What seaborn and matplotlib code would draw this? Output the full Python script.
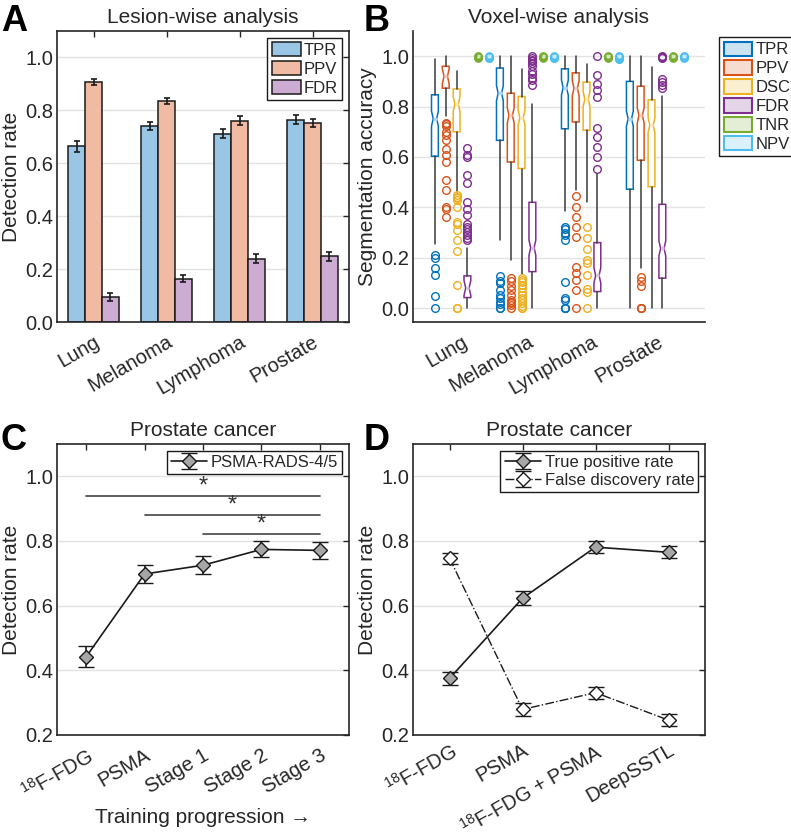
import numpy as np
import pandas as pd
import seaborn as sns
import matplotlib.pyplot as plt
from matplotlib.patches import Patch

sns.set_theme(style="white")
plt.rcParams['font.family'] = ['Liberation Sans', 'DejaVu Sans']
plt.rcParams['mathtext.fontset'] = 'custom'
plt.rcParams['mathtext.rm'] = 'Liberation Sans'
plt.rcParams['mathtext.default'] = 'regular'

# ---------------- data ----------------
cancers = ["Lung", "Melanoma", "Lymphoma", "Prostate"]

# A: lesion-wise
lesion_metrics = ["TPR", "PPV", "FDR"]
tpr_mean = [0.664, 0.742, 0.711, 0.765]
ppv_mean = [0.908, 0.836, 0.761, 0.752]
fdr_mean = [0.094, 0.164, 0.239, 0.248]
tpr_err = [0.020, 0.015, 0.017, 0.017]
ppv_err = [0.012, 0.012, 0.017, 0.015]
fdr_err = [0.015, 0.014, 0.017, 0.017]

# B: voxel-wise (rows: cancers, cols: TPR PPV DSC FDR TNR NPV)
vox_metrics = ["TPR", "PPV", "DSC", "FDR", "TNR", "NPV"]
box_q1 = [[0.603, 0.873, 0.700, 0.042, 1, 1],
          [0.666, 0.580, 0.554, 0.145, 1, 1],
          [0.712, 0.739, 0.706, 0.066, 1, 1],
          [0.472, 0.587, 0.482, 0.119, 1, 1]]
box_med = [[0.752, 0.920, 0.810, 0.080, 1, 1],
           [0.853, 0.765, 0.756, 0.240, 1, 1],
           [0.875, 0.873, 0.830, 0.130, 1, 1],
           [0.752, 0.765, 0.726, 0.237, 1, 1]]
box_q3 = [[0.847, 0.960, 0.870, 0.128, 1, 1],
          [0.953, 0.853, 0.840, 0.420, 1, 1],
          [0.950, 0.934, 0.897, 0.260, 1, 1],
          [0.900, 0.881, 0.827, 0.412, 1, 1]]
whis_lo = [[0.253, 0.761, 0.460, 0.000, 1, 1],
           [0.270, 0.190, 0.135, 0.000, 1, 1],
           [0.387, 0.468, 0.420, 0.000, 1, 1],
           [0.000, 0.158, 0.000, 0.000, 1, 1]]
whis_hi = [[0.990, 1.000, 0.940, 0.237, 1, 1],
           [1.000, 1.000, 0.950, 0.810, 1, 1],
           [1.000, 1.000, 0.970, 0.532, 1, 1],
           [1.000, 1.000, 0.957, 0.842, 1, 1]]
fliers_lung = [
    [0.209, 0.201, 0.158, 0.132, 0.049, 0.0],
    [0.735, 0.73, 0.722, 0.70, 0.686, 0.666, 0.633, 0.607, 0.58, 0.507, 0.47, 0.402, 0.392, 0.363],
    [0.448, 0.442, 0.436, 0.43, 0.40, 0.342, 0.333, 0.31, 0.27, 0.226, 0.091, 0.0, 0.0],
    [0.637, 0.607, 0.60, 0.53, 0.495, 0.42, 0.392, 0.369, 0.334, 0.323, 0.313, 0.303, 0.29, 0.277, 0.27],
    [1.0, 0.998, 0.996, 0.994],
    [1.0, 0.997, 0.994, 0.992]]
fliers_melanoma = [
    [0.128, 0.106, 0.10, 0.073, 0.053, 0.042, 0.026, 0.017, 0.0, 0.0],
    [0.119, 0.106, 0.086, 0.073, 0.053, 0.033, 0.026, 0.02, 0.013, 0.0],
    [0.121, 0.112, 0.102, 0.092, 0.079, 0.066, 0.053, 0.042, 0.033, 0.02, 0.009, 0.0, 0.0],
    [1.0, 0.993, 0.985, 0.979, 0.972, 0.963, 0.943, 0.93, 0.914, 0.904, 0.884],
    [1.0, 0.998, 0.996, 0.994],
    [1.0, 0.997, 0.994, 0.992]]
fliers_lymphoma = [
    [0.321, 0.313, 0.297, 0.29, 0.27, 0.102, 0.04, 0.033, 0.0, 0.0, 0.0],
    [0.445, 0.40, 0.36, 0.321, 0.284, 0.162, 0.139, 0.112, 0.073, 0.0],
    [0.321, 0.277, 0.234, 0.191, 0.181, 0.132, 0.075, 0.066, 0.0],
    [1.0, 0.927, 0.888, 0.867, 0.838, 0.715, 0.679, 0.64, 0.60, 0.554],
    [1.0, 0.998, 0.996, 0.994],
    [1.0, 0.995, 0.99, 0.988]]
fliers_prostate = [
    [],
    [0.125, 0.108, 0.088, 0.0, 0.0, 0.0],
    [],
    [1.0, 0.998, 0.996, 0.994, 0.91, 0.897, 0.884, 0.873],
    [1.0, 0.998, 0.996, 0.994],
    [1.0, 0.998, 0.996, 0.994]]
box_fliers = [fliers_lung, fliers_melanoma, fliers_lymphoma, fliers_prostate]

# C: training progression
stages = ["$^{18}$F-FDG", "PSMA", "Stage 1", "Stage 2", "Stage 3"]
rads_mean = [0.442, 0.698, 0.725, 0.774, 0.771]
rads_err = [0.032, 0.028, 0.028, 0.025, 0.026]
sig_start = [0, 1, 2]
sig_end = [4, 4, 4]
sig_y = [0.940, 0.881, 0.821]

# D: comparison
methods = ["$^{18}$F-FDG", "PSMA", "$^{18}$F-FDG + PSMA", "DeepSSTL"]
d_tpr_mean = [0.375, 0.623, 0.781, 0.765]
d_tpr_err = [0.021, 0.021, 0.018, 0.018]
d_fdr_mean = [0.747, 0.279, 0.331, 0.246]
d_fdr_err = [0.017, 0.019, 0.019, 0.018]

# ---------------- style ----------------
mcolors = ["#0072BD", "#D95319", "#EDB120", "#7E2F8E", "#77AC30", "#4DBEEE"]
bar_colors = ["#99C6E5", "#F0BAA3", "#CCACD2"]
TICK = 14.5
LAB = 15
LEG = 12
W, H = 791, 832

fig = plt.figure(figsize=(W / 100, H / 100), dpi=100)


def make_ax(l, r, t, b):
    return fig.add_axes([l / W, 1 - b / H, (r - l) / W, (b - t) / H])


def matlab_axes(ax, box=True):
    for s in ax.spines.values():
        s.set_color("#262626")
        s.set_linewidth(1.2)
    if not box:
        ax.spines["top"].set_visible(False)
        ax.spines["right"].set_visible(False)
    ax.tick_params(direction="in", length=4, width=1, colors="#262626",
                   labelsize=TICK, top=box, right=box, pad=2.5)
    ax.tick_params(axis="x", pad=7.5)
    ax.yaxis.grid(True, color="#e3e3e3", lw=1)
    ax.xaxis.grid(False)
    ax.set_axisbelow(True)


def light(c, a=0.25):
    rgb = np.array(plt.matplotlib.colors.to_rgb(c))
    return tuple(1 - a + a * rgb)


leg_kw = dict(fontsize=LEG, frameon=True, fancybox=False, edgecolor="#1a1a1a",
              framealpha=1, handletextpad=0.2, labelspacing=0.18, borderpad=0.25)

# ---------------- A ----------------
axA = make_ax(57, 349, 31, 322)
dfA = pd.DataFrame({
    "cancer": cancers * 3,
    "metric": sum([[m] * 4 for m in lesion_metrics], []),
    "value": tpr_mean + ppv_mean + fdr_mean,
})
sns.barplot(data=dfA, x="cancer", y="value", hue="metric", palette=bar_colors,
            width=0.69, edgecolor="#1a1a1a", linewidth=1.1, saturation=1,
            errorbar=None, legend=False, ax=axA)
errs = [tpr_err, ppv_err, fdr_err]
means = [tpr_mean, ppv_mean, fdr_mean]
bar_conts = list(axA.containers)
for j, cont in enumerate(bar_conts):
    xs = [b.get_x() + b.get_width() / 2 for b in cont]
    axA.errorbar(xs, means[j], yerr=errs[j], fmt="none", ecolor="#1a1a1a",
                 elinewidth=1.2, capsize=2.5, capthick=1.2)
axA.set_ylim(0, 1.1)
axA.set_xlim(-0.5, 3.5)
axA.set_yticks(np.arange(0, 1.01, 0.2))
axA.set_yticklabels([f"{v:.1f}" for v in np.arange(0, 1.01, 0.2)])
matlab_axes(axA)
axA.set_xticks(range(4))
axA.set_xticklabels(cancers, rotation=30, ha="right", rotation_mode="anchor")
axA.set_xlabel("")
axA.set_ylabel("Detection rate", fontsize=LAB, labelpad=3)
axA.set_title("Lesion-wise analysis", fontsize=LAB, pad=6)
axA.legend(handles=[Patch(facecolor=c, edgecolor="#1a1a1a", lw=1.1, label=m)
                    for c, m in zip(bar_colors, lesion_metrics)],
           loc="upper right", handlelength=1.75, handleheight=0.95,
           borderaxespad=0.4, **leg_kw)

# ---------------- B ----------------
axB = make_ax(413, 705, 31, 322)
for j, m in enumerate(vox_metrics):
    stats = []
    for i in range(4):
        med = box_med[i][j]
        nh = min(0.03, med - box_q1[i][j], box_q3[i][j] - med)
        stats.append(dict(med=med, q1=box_q1[i][j], q3=box_q3[i][j],
                          whislo=whis_lo[i][j], whishi=whis_hi[i][j],
                          fliers=box_fliers[i][j], cilo=med - nh, cihi=med + nh))
    pos = [i + (j - 2.5) / 6 for i in range(4)]
    c = mcolors[j]
    axB.bxp(stats, positions=pos, widths=0.105, shownotches=True, showcaps=False,
            patch_artist=True, manage_ticks=False,
            boxprops=dict(facecolor="white", edgecolor=c, linewidth=1.1),
            whiskerprops=dict(color="#3a3a3a", linewidth=1.1),
            medianprops=dict(color=light(c, 0.3), linewidth=2.5),
            flierprops=dict(marker="o", markerfacecolor="none", markeredgecolor=c,
                            markersize=5.5 if j < 4 else 4.5,
                            markeredgewidth=1.0 if j < 4 else 1.8,
                            linestyle="none"))
axB.set_xlim(-0.754, 3.74)
axB.set_ylim(-0.055, 1.1)
axB.set_yticks(np.arange(0, 1.01, 0.2))
axB.set_yticklabels([f"{v:.1f}" for v in np.arange(0, 1.01, 0.2)])
matlab_axes(axB, box=False)
axB.set_xticks(range(4))
axB.set_xticklabels(cancers, rotation=30, ha="right", rotation_mode="anchor")
axB.set_ylabel("Segmentation accuracy", fontsize=LAB, labelpad=3)
axB.set_title("Voxel-wise analysis", fontsize=LAB, pad=6)
axB.legend(handles=[Patch(facecolor=light(c, 0.2), edgecolor=c, lw=1.5, label=m)
                    for c, m in zip(mcolors, vox_metrics)],
           loc="upper left", bbox_to_anchor=(711 / W, 1 - 29 / H),
           bbox_transform=fig.transFigure, handlelength=1.7, handleheight=0.95,
           **leg_kw)

# ---------------- C ----------------
axC = make_ax(57, 349, 444, 735)
axC.errorbar(range(5), rads_mean, yerr=rads_err, color="#1a1a1a", lw=1.2,
             marker="D", markersize=7, markerfacecolor="#a6a6a6",
             markeredgecolor="#1a1a1a", markeredgewidth=1.0, capsize=5.5,
             capthick=1.2, elinewidth=1.2, label="PSMA-RADS-4/5")
for s, e, y in zip(sig_start, sig_end, sig_y):
    axC.plot([s, e], [y, y], color="#444444", lw=1.2)
    axC.text((s + e) / 2, y + 0.03, "*", ha="center", va="center",
             fontsize=17, color="#333333")
axC.set_xlim(-0.5, 4.5)
axC.set_ylim(0.2, 1.1)
axC.set_yticks(np.arange(0.2, 1.01, 0.2))
axC.set_yticklabels([f"{v:.1f}" for v in np.arange(0.2, 1.01, 0.2)])
matlab_axes(axC)
axC.set_xticks(range(5))
axC.set_xticklabels(stages, rotation=30, ha="right", rotation_mode="anchor")
axC.set_ylabel("Detection rate", fontsize=LAB, labelpad=3)
axC.set_xlabel("Training progression \u2192", fontsize=LAB, labelpad=3)
axC.set_title("Prostate cancer", fontsize=LAB, pad=6)
axC.legend(loc="upper right", handlelength=2.2, borderaxespad=0.4, **leg_kw)

# ---------------- D ----------------
axD = make_ax(413, 705, 444, 735)
axD.errorbar(range(4), d_tpr_mean, yerr=d_tpr_err, color="#1a1a1a", lw=1.2,
             marker="D", markersize=7, markerfacecolor="#a6a6a6",
             markeredgecolor="#1a1a1a", markeredgewidth=1.0, capsize=5.5,
             capthick=1.2, elinewidth=1.2, label="True positive rate")
axD.errorbar(range(4), d_fdr_mean, yerr=d_fdr_err, color="#1a1a1a", lw=1.0,
             ls="-.", marker="D", markersize=7, markerfacecolor="white",
             markeredgecolor="#1a1a1a", markeredgewidth=1.0, capsize=5.5,
             capthick=1.2, elinewidth=1.2, label="False discovery rate")
axD.set_xlim(-0.5, 3.5)
axD.set_ylim(0.2, 1.1)
axD.set_yticks(np.arange(0.2, 1.01, 0.2))
axD.set_yticklabels([f"{v:.1f}" for v in np.arange(0.2, 1.01, 0.2)])
matlab_axes(axD)
axD.set_xticks(range(4))
axD.set_xticklabels(methods, rotation=30, ha="right", rotation_mode="anchor")
axD.tick_params(axis="x", pad=4)
axD.set_ylabel("Detection rate", fontsize=LAB, labelpad=3)
axD.set_title("Prostate cancer", fontsize=LAB, pad=6)
axD.legend(loc="upper right", handlelength=2.2, borderaxespad=0.4, **leg_kw)

# panel letters
for lbl, x, y in [("A", 1, 4), ("B", 364, 4), ("C", 1, 423), ("D", 364, 423)]:
    fig.text(x / W, 1 - y / H, lbl, fontsize=26, fontweight="bold", va="top",
             ha="left", color="black")

fig.savefig("out.png", dpi=100)
